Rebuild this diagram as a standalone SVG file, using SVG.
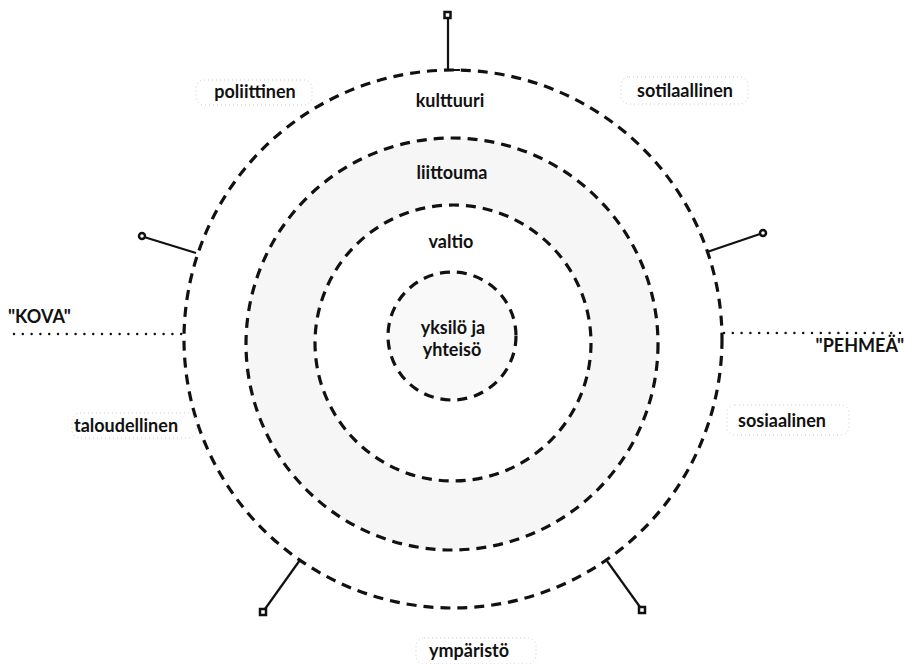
<svg xmlns="http://www.w3.org/2000/svg" width="905" height="664" viewBox="0 0 905 664">
<style>
.ring{fill:none;stroke:#111;stroke-width:3.2;stroke-dasharray:10 7;}
.spoke{fill:none;stroke:#111;stroke-width:2.2;}
.end{fill:#fff;stroke:#111;stroke-width:2.5;}
.dots{fill:none;stroke:#111;stroke-width:2.5;stroke-linecap:round;stroke-dasharray:0 8.8;}
.lbl{font-family:Lato,"Open Sans","DejaVu Sans",sans-serif;font-weight:bold;font-size:18px;fill:#111;}
.box{fill:none;stroke:#cccccc;stroke-width:1;stroke-dasharray:1 3;}
</style>
<rect width="905" height="664" fill="#fff"/>
<g id="band">
<path d="M246,344a206,206 0 1,0 412,0a206,206 0 1,0 -412,0Z M315,343a138,138 0 1,1 276,0a138,138 0 1,1 -276,0Z" fill="#f6f6f6" fill-rule="evenodd"/>
<circle cx="452" cy="336" r="64" fill="#f9f9f9"/>
</g>
<g id="rings">
<circle id="kulttuuri-ring" class="ring" cx="453" cy="339" r="269"/>
<circle id="liittouma-ring" class="ring" cx="452" cy="344" r="206"/>
<circle id="valtio-ring" class="ring" cx="453" cy="343" r="138"/>
<circle id="yksilo-ring" class="ring" cx="452" cy="336" r="64"/>
</g>
<g id="connectors">
<polyline class="spoke" points="448,19 448,70 460,70"/>
<rect class="end" x="444.5" y="12" width="6" height="6"/>
<line class="spoke" x1="144" y1="237" x2="196" y2="253"/>
<circle class="end" cx="142" cy="236" r="3"/>
<line class="spoke" x1="707" y1="252" x2="760" y2="234"/>
<circle class="end" cx="763" cy="233" r="3"/>
<line class="spoke" x1="300" y1="560" x2="265" y2="609"/>
<rect class="end" x="260" y="609" width="6" height="6"/>
<line class="spoke" x1="607" y1="561" x2="640" y2="607"/>
<rect class="end" x="639" y="607" width="6" height="6"/>
<line class="dots" x1="14" y1="334" x2="183" y2="334"/>
<line class="dots" x1="724" y1="333" x2="905" y2="333"/>
</g>
<g id="center-labels">
<text class="lbl" x="450" y="107" text-anchor="middle">kulttuuri</text>
<text class="lbl" x="452" y="179" text-anchor="middle">liittouma</text>
<text class="lbl" x="451" y="248" text-anchor="middle">valtio</text>
<text class="lbl" x="453" y="334" text-anchor="middle">yksilö ja</text>
<text class="lbl" x="452" y="356" text-anchor="middle">yhteisö</text>
</g>
<g id="poliittinen">
<rect class="box" x="196" y="80" width="116" height="25" rx="8"/>
<text class="lbl" x="255" y="98" text-anchor="middle">poliittinen</text>
</g>
<g id="sotilaallinen">
<rect class="box" x="621" y="77" width="127" height="27" rx="8"/>
<text class="lbl" x="685" y="97" text-anchor="middle">sotilaallinen</text>
</g>
<g id="taloudellinen">
<rect class="box" x="72" y="413" width="124" height="25" rx="8"/>
<text class="lbl" x="126" y="432" text-anchor="middle">taloudellinen</text>
</g>
<g id="sosiaalinen">
<rect class="box" x="727" y="405" width="122" height="30" rx="8"/>
<text class="lbl" x="782" y="427" text-anchor="middle">sosiaalinen</text>
</g>
<g id="ymparisto">
<rect class="box" x="416" y="638" width="120" height="26" rx="8"/>
<text class="lbl" x="469" y="657" text-anchor="middle">ympäristö</text>
</g>
<g id="kova">
<text class="lbl" x="8" y="323">"KOVA"</text>
</g>
<g id="pehmea">
<text class="lbl" x="904" y="352" text-anchor="end">"PEHMEÄ"</text>
</g>
</svg>
